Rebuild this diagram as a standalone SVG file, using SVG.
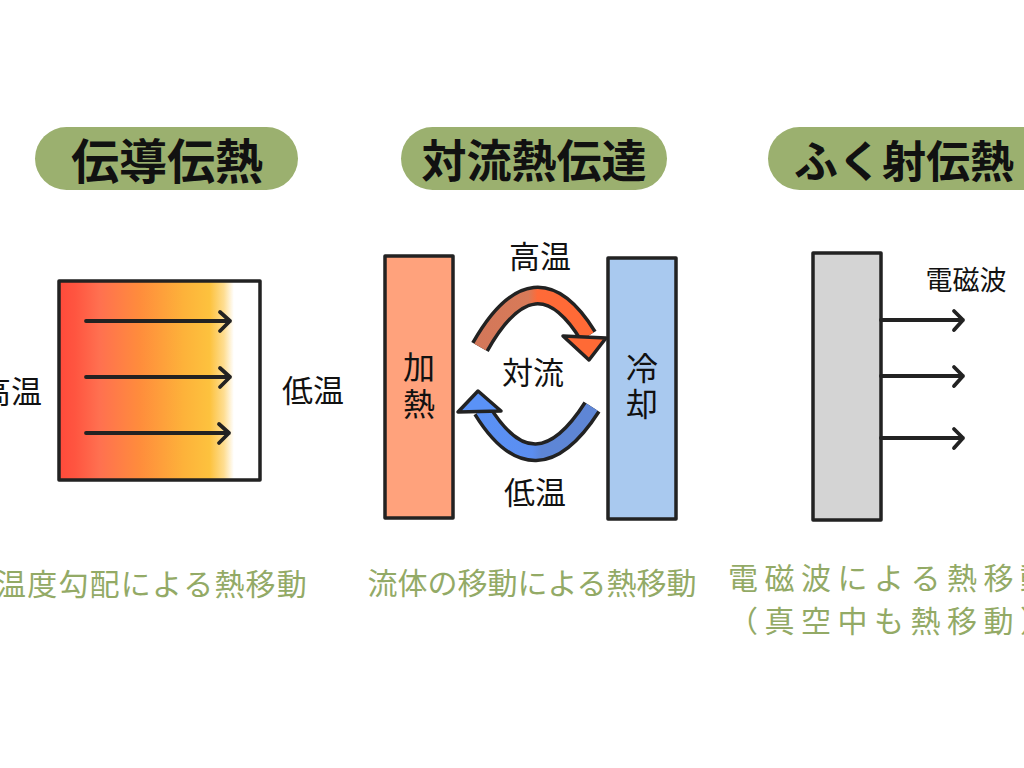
<svg xmlns="http://www.w3.org/2000/svg" width="1024" height="768" viewBox="0 0 1024 768">
<defs>
<style>
.pill{fill:#9bb06f}
.title{font-family:"Noto Sans CJK JP","Noto Sans",sans-serif;font-weight:700;fill:#111}
.lbl{font-family:"Noto Sans CJK JP","Noto Sans",sans-serif;font-weight:400;fill:#111}
.cap{font-family:"Noto Sans CJK JP","Noto Sans",sans-serif;font-weight:400;fill:#93aa66;font-size:30px}
.box{stroke:#222;stroke-width:3.5;stroke-linejoin:round}
.arr{stroke:#222;stroke-width:3.8;fill:none;stroke-linecap:round;stroke-linejoin:round}
</style>
<linearGradient id="heat" x1="0" y1="0" x2="1" y2="0">
<stop offset="0" stop-color="#ff4a3a"/>
<stop offset="0.08" stop-color="#ff5540"/>
<stop offset="0.2" stop-color="#ff7050"/>
<stop offset="0.4" stop-color="#ff8c3c"/>
<stop offset="0.62" stop-color="#fdb23a"/>
<stop offset="0.75" stop-color="#fdc23e"/>
<stop offset="0.82" stop-color="#fedd90"/>
<stop offset="0.87" stop-color="#ffffff"/>
<stop offset="1" stop-color="#ffffff"/>
</linearGradient>
<linearGradient id="hot" gradientUnits="userSpaceOnUse" x1="470" y1="0" x2="600" y2="0">
<stop offset="0" stop-color="#d2775a"/>
<stop offset="0.45" stop-color="#d87a58"/>
<stop offset="0.52" stop-color="#ff6a38"/>
<stop offset="1" stop-color="#ff6a35"/>
</linearGradient>
<linearGradient id="cold" gradientUnits="userSpaceOnUse" x1="470" y1="0" x2="600" y2="0">
<stop offset="0" stop-color="#5a92f7"/>
<stop offset="0.48" stop-color="#5b8ef0"/>
<stop offset="0.55" stop-color="#5d86d6"/>
<stop offset="1" stop-color="#5f86d6"/>
</linearGradient>
</defs>
<rect width="1024" height="768" fill="#fff"/>

<g id="title-conduction">
<rect class="pill" x="35" y="127" width="263" height="63" rx="31.5"/>
<text class="title" x="167" y="179" font-size="48" text-anchor="middle">伝導伝熱</text>
</g>
<g id="title-convection">
<rect class="pill" x="401" y="127" width="266" height="63" rx="31.5"/>
<text class="title" x="534" y="178" font-size="45" text-anchor="middle">対流熱伝達</text>
</g>
<g id="title-radiation">
<rect class="pill" x="768" y="127" width="290" height="63" rx="31.5"/>
<text class="title" x="794" y="178" font-size="44">ふく射伝熱</text>
</g>

<g id="conduction-block">
<rect class="box" x="59" y="281" width="201" height="199" fill="url(#heat)"/>
</g>
<g id="label-high-left"><text class="lbl" x="42" y="403" font-size="31" text-anchor="end">高温</text></g>
<g id="label-low-left"><text class="lbl" x="313" y="402" font-size="31" text-anchor="middle">低温</text></g>

<g id="heater">
<rect class="box" x="385" y="256" width="68" height="262" fill="#ffa27c"/>
<text class="lbl" font-size="32" text-anchor="middle"><tspan x="419" y="379">加</tspan><tspan x="419" y="416">熱</tspan></text>
</g>
<g id="cooler">
<rect class="box" x="608" y="258" width="68" height="261" fill="#a9c9ef"/>
<text class="lbl" font-size="32" text-anchor="middle"><tspan x="642" y="380">冷</tspan><tspan x="642" y="416">却</tspan></text>
</g>
<g id="label-high-mid"><text class="lbl" x="540" y="268" font-size="31" text-anchor="middle">高温</text></g>
<g id="label-convection"><text class="lbl" x="533" y="384" font-size="31" text-anchor="middle">対流</text></g>
<g id="label-low-mid"><text class="lbl" x="535" y="504" font-size="31" text-anchor="middle">低温</text></g>

<g id="emitter">
<rect class="box" x="813" y="253" width="68" height="267" fill="#d4d4d4"/>
</g>
<g id="label-em"><text class="lbl" x="966" y="290" font-size="27" text-anchor="middle">電磁波</text></g>

<g id="connectors">
<path class="arr" d="M86,321 H230 M220,312 L230,321 L220,331"/>
<path class="arr" d="M86,377 H230 M220,368 L230,377 L220,387"/>
<path class="arr" d="M86,433 H229 M219,424 L229,433 L219,443"/>

<path d="M480,347 Q535,250 588,336" fill="none" stroke="#222" stroke-width="20"/>
<path d="M480,347 Q535,250 588,336" fill="none" stroke="url(#hot)" stroke-width="13"/>
<polygon points="563,336 606,338 589,360" fill="#ff6a35" stroke="#222" stroke-width="3.5" stroke-linejoin="round"/>

<path d="M482,410 Q535,496 592,407" fill="none" stroke="#222" stroke-width="20"/>
<path d="M482,410 Q535,496 592,407" fill="none" stroke="url(#cold)" stroke-width="13"/>
<polygon points="478,391 458,412 501,411" fill="#5a92f7" stroke="#222" stroke-width="3.5" stroke-linejoin="round"/>

<path class="arr" d="M881,320 H963 M954,311 L963,320 L954,330"/>
<path class="arr" d="M881,376 H963 M954,367 L963,376 L954,386"/>
<path class="arr" d="M881,438 H963 M954,429 L963,438 L954,448"/>
</g>

<g id="captions">
<text class="cap" x="-4 27.2 58.4 89.6 120.8 152 183.2 214.4 245.6 276.8" y="595" font-size="31">温度勾配による熱移動</text>
<text class="cap" x="532" y="594" text-anchor="middle">流体の移動による熱移動</text>
<text class="cap" x="728 764.5 801 837.5 874 910.5 947 983.5 1020" y="589" font-size="31">電磁波による熱移動</text>
<text class="cap" x="728 764.5 801 837.5 874 910.5 947 983.5 1020" y="632" font-size="31">（真空中も熱移動）</text>
</g>
</svg>
